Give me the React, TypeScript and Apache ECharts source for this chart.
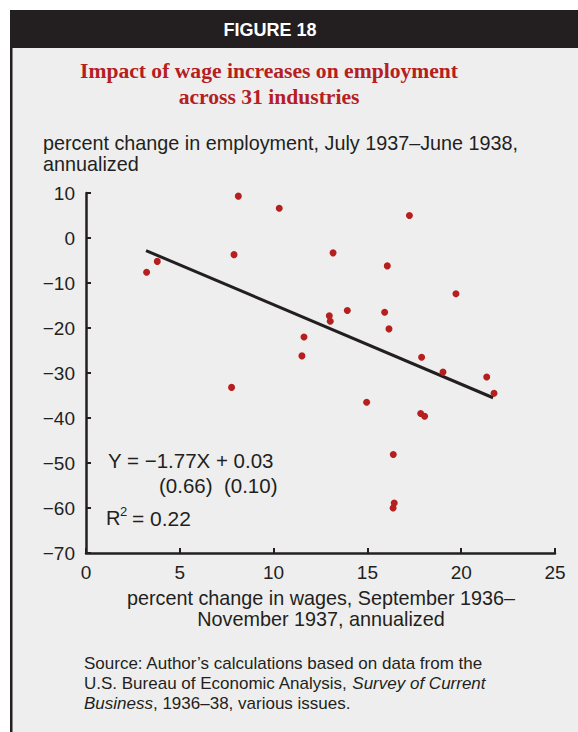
import React, { useEffect, useRef } from "react";
import * as echarts from "echarts";

// Data
const wageChange = [8.12, 10.3, 7.89, 3.8, 3.23, 11.62, 11.51, 12.97, 13.02, 17.24, 13.17, 16.06, 19.72, 13.93, 15.92, 16.15, 17.89, 19.03, 21.36, 21.75, 14.96, 17.84, 18.05, 16.38, 16.43, 16.37, 7.76];
const employmentChange = [9.3, 6.6, -3.7, -5.2, -7.6, -22.0, -26.2, -17.3, -18.5, 5.0, -3.3, -6.2, -12.4, -16.1, -16.5, -20.2, -26.5, -29.8, -30.9, -34.5, -36.5, -39.0, -39.6, -48.1, -58.9, -60.0, -33.2];
const fitX = [3.2, 21.7];
const fitY = [-2.8, -35.5];

const figureLabel = "FIGURE 18";
const titleLines = ["Impact of wage increases on employment", "across 31 industries"];
const yAxisTitle = ["percent change in employment, July 1937\u2013June 1938,", "annualized"];
const xAxisTitle = ["percent change in wages, September 1936\u2013", "November 1937, annualized"];
const equationLines = ["Y = \u22121.77X + 0.03", "(0.66)  (0.10)"];
const rSquared = "= 0.22";

const FONT = "'Liberation Sans', Arial, sans-serif";
const SERIF = "'Liberation Serif', 'Times New Roman', serif";
const INK = "#231f20";
const RED = "#b5201f";
const PANEL = "#eeeeee";

export default function App() {
  const ref = useRef<HTMLDivElement>(null);
  useEffect(() => {
    if (!ref.current) return;
    const chart = echarts.init(ref.current, null, { renderer: "svg" });
    const points = wageChange.map((x, i) => [x, employmentChange[i]]);
    const fit = fitX.map((x, i) => [x, fitY[i]]);
    const minus = (v: number) => String(v).replace("-", "\u2212");
    const rich = {
      n: { fontFamily: FONT, fontSize: 17, fill: INK },
      i: { fontFamily: FONT, fontSize: 17, fontStyle: "italic", fill: INK },
    };
    chart.setOption({
      animation: false,
      backgroundColor: "#ffffff",
      grid: { left: 86, right: 23, top: 193, bottom: 179, containLabel: false },
      xAxis: {
        type: "value",
        min: 0,
        max: 25,
        interval: 5,
        axisLine: { show: true, onZero: false, lineStyle: { color: INK, width: 2.5 } },
        axisTick: { show: true, inside: true, length: 5, lineStyle: { color: INK, width: 2 } },
        axisLabel: { color: INK, fontFamily: FONT, fontSize: 19, margin: 10, formatter: minus },
        splitLine: { show: false },
      },
      yAxis: {
        type: "value",
        min: -70,
        max: 10,
        interval: 10,
        axisLine: { show: true, onZero: false, lineStyle: { color: INK, width: 2.5 } },
        axisTick: { show: true, inside: true, length: 5, lineStyle: { color: INK, width: 2 } },
        axisLabel: { color: INK, fontFamily: FONT, fontSize: 19, margin: 11, formatter: minus },
        splitLine: { show: false },
      },
      graphic: [
        { type: "rect", z: -10, shape: { x: 10, y: 10, width: 568, height: 722 }, style: { fill: PANEL } },
        { type: "rect", z: -9, shape: { x: 10, y: 10, width: 2.5, height: 722 }, style: { fill: INK } },
        { type: "rect", z: -9, shape: { x: 10, y: 10, width: 568, height: 38 }, style: { fill: INK } },
        {
          type: "text", x: 270, y: 30,
          style: { text: figureLabel, fill: "#ffffff", font: `bold 18px ${FONT}`, align: "center", verticalAlign: "middle" },
        },
        ...titleLines.map((t, i) => ({
          type: "text", x: 269, y: 71 + i * 26,
          style: { text: t, fill: RED, font: `bold 21.6px ${SERIF}`, align: "center", verticalAlign: "middle" },
        })),
        ...yAxisTitle.map((t, i) => ({
          type: "text", x: 43, y: 143 + i * 21,
          style: { text: t, fill: INK, font: `19.8px ${FONT}`, align: "left", verticalAlign: "middle" },
        })),
        ...xAxisTitle.map((t, i) => ({
          type: "text", x: 321, y: 598 + i * 21,
          style: { text: t, fill: INK, font: `19.8px ${FONT}`, align: "center", verticalAlign: "middle" },
        })),
        {
          type: "text", x: 108, y: 460,
          style: { text: equationLines[0], fill: INK, font: `20.5px ${FONT}`, align: "left", verticalAlign: "middle" },
        },
        {
          type: "text", x: 159, y: 485,
          style: { text: equationLines[1], fill: INK, font: `20.5px ${FONT}`, align: "left", verticalAlign: "middle" },
        },
        {
          type: "text", x: 106, y: 518,
          style: { text: "R", fill: INK, font: `20px ${FONT}`, align: "left", verticalAlign: "middle" },
        },
        {
          type: "text", x: 120, y: 511,
          style: { text: "2", fill: INK, font: `13px ${FONT}`, align: "left", verticalAlign: "middle" },
        },
        {
          type: "text", x: 132, y: 518,
          style: { text: rSquared, fill: INK, font: `21px ${FONT}`, align: "left", verticalAlign: "middle" },
        },
        {
          type: "text", x: 84, y: 663,
          style: { text: "Source: Author\u2019s calculations based on data from the", fill: INK, font: `17px ${FONT}`, align: "left", verticalAlign: "middle" },
        },
        {
          type: "text", x: 84, y: 683,
          style: {
            text: "{n|U.S. Bureau of Economic Analysis, }{i|Survey of Current}",
            fill: INK, align: "left", verticalAlign: "middle", rich,
          },
        },
        {
          type: "text", x: 84, y: 703,
          style: {
            text: "{i|Business}{n|, 1936\u201338, various issues.}",
            fill: INK, align: "left", verticalAlign: "middle", rich,
          },
        },
      ],
      series: [
        {
          type: "line",
          data: fit,
          showSymbol: false,
          symbol: "none",
          lineStyle: { color: INK, width: 3 },
          z: 2,
        },
        {
          type: "scatter",
          data: points,
          symbolSize: 7,
          itemStyle: { color: RED, opacity: 1 },
          z: 3,
        },
      ],
    });
    return () => chart.dispose();
  }, []);
  return <div ref={ref} style={{ position: "absolute", left: 0, top: 0, width: 578, height: 732 }} />;
}
